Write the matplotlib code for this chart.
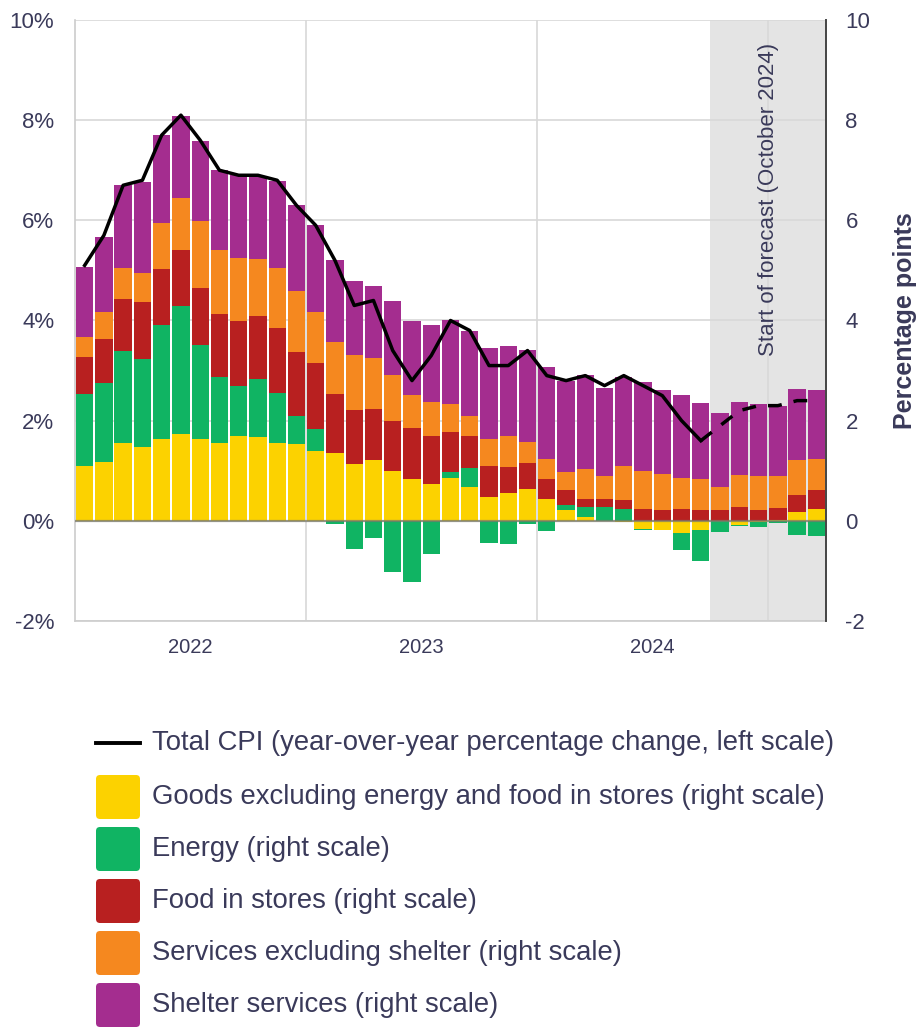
import numpy as np
import matplotlib
matplotlib.use('Agg')
import matplotlib.pyplot as plt
from matplotlib.patches import FancyBboxPatch

plt.rcParams['font.family'] = ['Liberation Sans', 'DejaVu Sans']

# monthly, Jan 2022 .. Mar 2025 (forecast from Oct 2024)
months = ['2022-01', '2022-02', '2022-03', '2022-04', '2022-05', '2022-06', '2022-07', '2022-08',
          '2022-09', '2022-10', '2022-11', '2022-12', '2023-01', '2023-02', '2023-03', '2023-04',
          '2023-05', '2023-06', '2023-07', '2023-08', '2023-09', '2023-10', '2023-11', '2023-12',
          '2024-01', '2024-02', '2024-03', '2024-04', '2024-05', '2024-06', '2024-07', '2024-08',
          '2024-09', '2024-10', '2024-11', '2024-12', '2025-01', '2025-02', '2025-03']
last_actual = '2024-09'
forecast_start = '2024-10'
years = ['2022', '2023', '2024']

cpi = [5.1, 5.7, 6.7, 6.8, 7.7, 8.1, 7.6, 7.0, 6.9, 6.9, 6.8, 6.3,
       5.9, 5.2, 4.3, 4.4, 3.4, 2.8, 3.3, 4.0, 3.8, 3.1, 3.1, 3.4,
       2.9, 2.8, 2.9, 2.7, 2.9, 2.7, 2.5, 2.0, 1.6,
       1.9, 2.2, 2.3, 2.3, 2.4, 2.4]

goods = [1.09, 1.17, 1.55, 1.47, 1.63, 1.73, 1.63, 1.55, 1.69, 1.67, 1.55, 1.53,
         1.39, 1.36, 1.14, 1.22, 1.00, 0.84, 0.74, 0.86, 0.68, 0.48, 0.56, 0.64,
         0.44, 0.22, 0.08, 0.0, -0.02, -0.16, -0.18, -0.25, -0.18,
         0.0, -0.08, -0.02, 0.02, 0.18, 0.24]
energy = [1.44, 1.58, 1.84, 1.76, 2.28, 2.56, 1.88, 1.32, 1.00, 1.16, 1.00, 0.56,
          0.44, -0.06, -0.56, -0.34, -1.02, -1.22, -0.66, 0.12, 0.38, -0.44, -0.46, -0.06,
          -0.20, 0.09, 0.20, 0.28, 0.24, -0.02, 0.0, -0.34, -0.62,
          -0.22, -0.02, -0.10, -0.04, -0.28, -0.30]
food = [0.74, 0.88, 1.04, 1.14, 1.12, 1.12, 1.14, 1.26, 1.30, 1.26, 1.30, 1.28,
        1.32, 1.18, 1.08, 1.02, 1.00, 1.02, 0.96, 0.80, 0.64, 0.62, 0.52, 0.52,
        0.40, 0.30, 0.16, 0.16, 0.18, 0.24, 0.22, 0.24, 0.22,
        0.22, 0.28, 0.22, 0.24, 0.34, 0.38]
services = [0.40, 0.54, 0.62, 0.58, 0.92, 1.04, 1.34, 1.28, 1.26, 1.14, 1.20, 1.22,
            1.02, 1.04, 1.09, 1.01, 0.91, 0.65, 0.67, 0.56, 0.40, 0.54, 0.62, 0.42,
            0.40, 0.36, 0.60, 0.46, 0.68, 0.76, 0.72, 0.62, 0.62,
            0.46, 0.64, 0.68, 0.64, 0.70, 0.62]
shelter = [1.40, 1.49, 1.66, 1.82, 1.76, 1.64, 1.60, 1.59, 1.65, 1.65, 1.74, 1.72,
           1.74, 1.63, 1.48, 1.44, 1.48, 1.48, 1.54, 1.67, 1.69, 1.81, 1.79, 1.83,
           1.83, 1.83, 1.87, 1.75, 1.77, 1.77, 1.67, 1.65, 1.51,
           1.47, 1.45, 1.43, 1.39, 1.41, 1.37]

labels = ['Total CPI (year-over-year percentage change, left scale)',
          'Goods excluding energy and food in stores (right scale)',
          'Energy (right scale)',
          'Food in stores (right scale)',
          'Services excluding shelter (right scale)',
          'Shelter services (right scale)']
colors = ['#FCD200', '#10B463', '#B82020', '#F5881F', '#A42D8F']
txt = '#3a3a5a'

x = np.arange(len(months))
ia = months.index(last_actual)
fs = months.index(forecast_start)

fig = plt.figure(figsize=(9.18, 10.28), dpi=100)
ax = fig.add_axes([75/918, 1 - 621/1028, 751/918, 601/1028])

ax.axvspan(fs - 0.5, len(months) - 0.5, color='#e4e4e4', zorder=0.2, lw=0)

pos = np.zeros(len(x))
neg = np.zeros(len(x))
for vals, c in zip([goods, energy, food, services, shelter], colors):
    v = np.array(vals)
    base = np.where(v >= 0, pos, neg)
    ax.bar(x, v, bottom=base, width=0.9, color=c, lw=0, zorder=2)
    pos = pos + np.clip(v, 0, None)
    neg = neg + np.clip(v, None, 0)

ax.axhline(0, color='#7a7a6a', lw=1.6, alpha=0.75, zorder=3)
ax.plot(x[:ia + 1], cpi[:ia + 1], color='black', lw=2.5, zorder=4)
ax.plot(x[ia:], cpi[ia:], color='black', lw=2.5, ls=(0, (4, 3.5)), zorder=4)

ax.set_xlim(-0.5, len(months) - 0.5)
ax.set_ylim(-2, 10)
yt = np.arange(-2, 11, 2)
ax.set_yticks(yt)
ax.set_yticklabels(['%d%%' % t for t in yt])
ax.set_xticks([5.5, 17.5, 29.5])
ax.set_xticklabels(years)
ax.tick_params(axis='y', length=0, pad=15, labelsize=16, labelcolor=txt)
ax.tick_params(axis='x', length=0, pad=12, labelsize=14.5, labelcolor=txt)
ax.set_axisbelow(True)
ax.grid(axis='y', color='#d8d8d8', lw=1.2)
for b in [11.5, 23.5, 35.5]:
    ax.axvline(b, color='#d8d8d8', lw=1.2, zorder=0.5)
for s in ['top', 'right']:
    ax.spines[s].set_visible(False)
for s in ['left', 'bottom']:
    ax.spines[s].set_color('#cccccc')
    ax.spines[s].set_linewidth(1.2)

ax.text(35.5, 3.3, 'Start of forecast (October 2024)', rotation=90, ha='center', va='bottom',
        fontsize=16, color=txt, zorder=5)

ax2 = ax.twinx()
ax2.set_ylim(-2, 10)
ax2.set_yticks(yt)
ax2.set_yticklabels(['%d' % t for t in yt])
ax2.tick_params(axis='y', length=0, pad=14, labelsize=16, labelcolor=txt)
ax2.set_ylabel('Percentage points', fontsize=18, fontweight='bold', color=txt, labelpad=16)
for s in ['top', 'left', 'bottom']:
    ax2.spines[s].set_visible(False)
ax2.spines['right'].set_color('#444444')
ax2.spines['right'].set_linewidth(1.4)

# legend drawn in pixel coords
lax = fig.add_axes([0, 0, 1, 1], zorder=-1)
lax.set_xlim(0, 918)
lax.set_ylim(1028, 0)
lax.axis('off')
rows = [743, 797, 849, 901, 953, 1005]
lax.plot([96, 140], [rows[0], rows[0]], color='black', lw=2.8)
for r, c in zip(rows[1:], colors):
    lax.add_patch(FancyBboxPatch((96 + 4, r - 22 + 4), 44 - 8, 44 - 8,
                                 boxstyle='round,pad=4', fc=c, ec='none'))
for r, lab in zip(rows, labels):
    lax.text(152, r, lab, fontsize=19.8, color=txt, va='center', ha='left')

fig.savefig('out.png', dpi=100)
